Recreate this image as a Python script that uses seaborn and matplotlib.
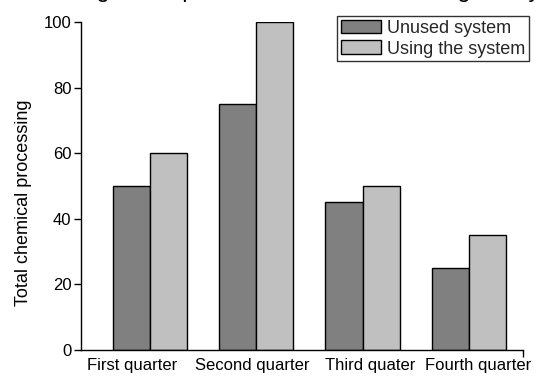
import matplotlib
matplotlib.use("Agg")
import matplotlib.pyplot as plt
import matplotlib.transforms as mtransforms
import seaborn as sns
import pandas as pd

quarters = ["First quarter", "Second quarter", "Third quater", "Fourth quarter"]
unused = [50, 75, 45, 25]
using = [60, 100, 50, 35]
series = ["Unused system", "Using the system"]

df = pd.DataFrame({
    "quarter": quarters * 2,
    "value": unused + using,
    "group": [series[0]] * 4 + [series[1]] * 4,
})

sns.set_theme(style="ticks")
plt.rcParams["font.family"] = ["Liberation Sans", "DejaVu Sans"]

fig = plt.figure(figsize=(5.38, 3.76), dpi=100)
ax = fig.add_axes([81 / 538, 26 / 376, 442 / 538, 328 / 376])

sns.barplot(data=df, x="quarter", y="value", hue="group", order=quarters,
            hue_order=series, palette=["#808080", "#c0c0c0"], width=0.7,
            gap=0, edgecolor="black", linewidth=1, saturation=1, ax=ax)

ax.set_xlim(-0.65, 3.51)
ax.set_ylim(0, 100)
ax.set_yticks([0, 20, 40, 60, 80, 100])
ax.set_xlabel("")
ax.set_ylabel("Total chemical processing", fontsize=13, color="black")
ax.yaxis.set_label_coords(-0.111, 0.45)
ax.tick_params(axis="y", labelsize=12, length=5, width=1, color="black",
               labelcolor="black", direction="out", pad=2)
ax.tick_params(axis="x", which="major", labelsize=12, length=0, pad=6,
               labelcolor="black")
ax.set_xticks([3.51], minor=True)
ax.tick_params(axis="x", which="minor", length=5, width=1, color="black")

# the original nudges the outer category labels apart
shifts = [-18, -4, 8, 9]
for lab, dx in zip(ax.get_xticklabels(), shifts):
    lab.set_transform(lab.get_transform() +
                      mtransforms.ScaledTranslation(dx / 100, 0, fig.dpi_scale_trans))

for s in ["top", "right"]:
    ax.spines[s].set_visible(False)
for s in ["left", "bottom"]:
    ax.spines[s].set_color("black")
    ax.spines[s].set_linewidth(1)

handles, labels = ax.get_legend_handles_labels()
leg = ax.legend(handles, labels, loc="upper right",
                bbox_to_anchor=(529 / 538, 1 - 16 / 376),
                bbox_transform=fig.transFigure, borderaxespad=0,
                fontsize=13, frameon=True, fancybox=False,
                handlelength=2.2, handleheight=0.8, handletextpad=0.35,
                labelspacing=0.2, borderpad=0.2)
leg.get_frame().set_edgecolor("black")
leg.get_frame().set_linewidth(1)

# title sits above the visible area, only its descenders show
fig.text(0.5, 1 - 2.5 / 376,
         "The chemical processing of the plant before and after using the system quarterly",
         ha="center", va="bottom", fontsize=17, color="black")

fig.savefig("out.png", dpi=100)
